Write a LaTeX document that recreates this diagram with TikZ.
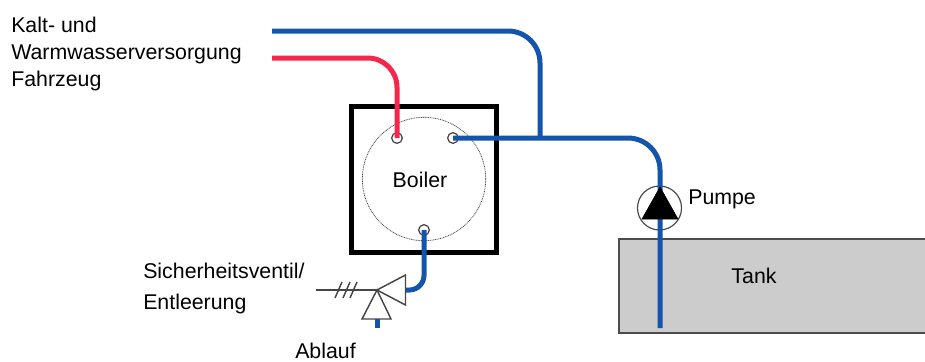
\documentclass[tikz,border=0pt]{standalone}
\usepackage{fontspec}
\setmainfont{Liberation Sans}
\usetikzlibrary{arrows, arrows.meta}
\usetikzlibrary{calc}
\definecolor{pipeblue}{RGB}{20,84,170}
\definecolor{pipered}{RGB}{245,40,75}
\definecolor{tankgray}{RGB}{204,204,204}
\definecolor{valvegray}{RGB}{70,70,70}
\tikzset{
  lbl/.style={inner sep=0pt, font=\fontsize{16pt}{20pt}\selectfont},
  port/.style={circle, draw=black!75, fill=white, line width=0.9pt, inner sep=0pt, minimum size=8pt},
  bluepipe/.style={draw=pipeblue, line width=3.75pt, rounded corners=24pt},
  redpipe/.style={draw=pipered, line width=3.75pt, rounded corners=22pt},
  valve/.style={draw=valvegray, line width=1.1pt},
}
\begin{document}
\begin{tikzpicture}[x=0.75pt, y=-0.75pt]
      \useasboundingbox (0,0) rectangle (925,361);

      \node[draw=black!70, fill=tankgray, line width=1pt, minimum width=240pt, minimum height=70.5pt, inner sep=0pt] (tank) at (779,286) {};
      \node[lbl] (tanklabel) at (754,276) {Tank};

      \node[draw, line width=3.75pt, minimum width=108.5pt, minimum height=109.5pt, inner sep=0pt] (boiler) at (424,179) {};
      \node[circle, draw=black!70, dash pattern=on 0.7pt off 0.6pt, line width=0.6pt, minimum size=92.5pt, inner sep=0pt] (boilercircle) at (424,179) {};
      \node[lbl] (boilerlabel) at (420,180) {Boiler};

      \node[port] (hot) at (397,138) {};
      \node[port] (cold) at (453,138) {};
      \node[port] (drain) at (424,230) {};

      \node[circle, draw=black!70, fill=white, line width=0.9pt, minimum size=33pt, inner sep=0pt] (pump) at (659.5,208) {};

      \coordinate (coldin) at (272,31);
      \coordinate (coldbend) at (540,31);
      \coordinate (coldjoin) at (540,138);
      \coordinate (hotin) at (272,58);
      \coordinate (hotbend) at (397,58);
      \coordinate (pumpbend) at (660,138);
      \coordinate (tankend) at (660,328);
      \coordinate (drainbend) at (424,290);
      \coordinate (valveright) at (405.5,290);
      \coordinate (valvemid) at (377,290);
      \coordinate (valvein) at (316,290);
      \coordinate (valvedown) at (377,319);
      \coordinate (ablauf) at (377,328);

      \draw[redpipe] (hotin) -- (hotbend) -- (hot.center);
      \draw[bluepipe] (coldin) -- (coldbend) -- (coldjoin);
      \draw[bluepipe] (cold.center) -- (pumpbend) -- (tankend);
      \draw[bluepipe, rounded corners=11pt] (drain.center) -- (drainbend) -- (valveright);
      \draw[bluepipe] (valvedown) -- (ablauf);

      \draw[fill=black] (660,187) -- (678,219) -- (642,219) -- cycle;

      \draw[valve] (valvein) -- (valvemid);
      \foreach \x in {335,343,350} {
        \draw[valve] (\x,298) -- (\x+7,282);
      }
      \draw[valve] (valvemid) -- (405.5,275) -- (405.5,305) -- cycle;
      \draw[valve] (valvemid) -- (391,319) -- (362,319) -- cycle;

      \node[lbl, anchor=west, align=left] (supply) at (11,54) {Kalt- und\\Warmwasserversorgung\\Fahrzeug};
      \node[lbl, anchor=west] (pumplabel) at (688,199) {Pumpe};
      \node[lbl, anchor=west, align=left, font=\fontsize{16pt}{23pt}\selectfont] (ventil) at (143,288.5) {Sicherheitsventil/\\Entleerung};
      \node[lbl] (ablauflabel) at (325.5,350.5) {Ablauf};
    \end{tikzpicture}
\end{document}
